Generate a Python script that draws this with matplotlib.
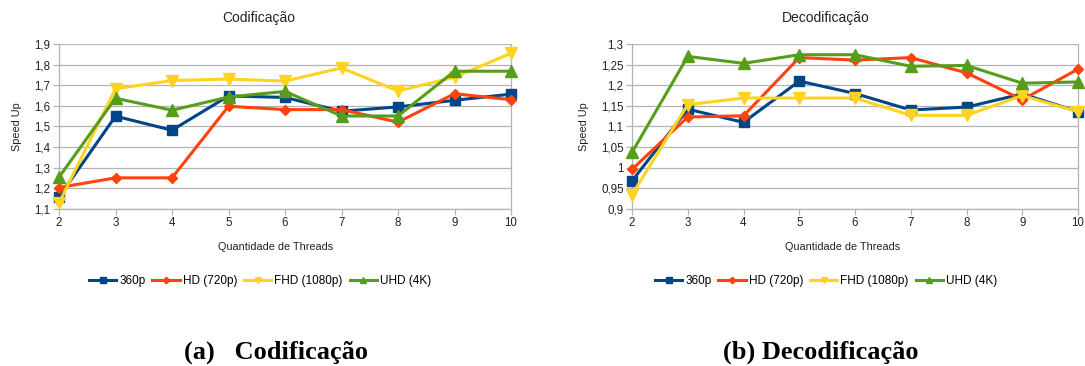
import matplotlib
matplotlib.use("Agg")
import matplotlib.pyplot as plt
from matplotlib.ticker import FuncFormatter

threads = [2, 3, 4, 5, 6, 7, 8, 9, 10]
series_names = ["360p", "HD (720p)", "FHD (1080p)", "UHD (4K)"]

cod_360p = [1.158, 1.550, 1.482, 1.648, 1.641, 1.574, 1.595, 1.627, 1.657]
cod_hd = [1.204, 1.251, 1.251, 1.598, 1.582, 1.582, 1.521, 1.659, 1.630]
cod_fhd = [1.129, 1.683, 1.723, 1.730, 1.720, 1.784, 1.672, 1.739, 1.855]
cod_uhd = [1.254, 1.637, 1.579, 1.643, 1.670, 1.551, 1.551, 1.768, 1.768]

dec_360p = [0.968, 1.142, 1.110, 1.210, 1.180, 1.140, 1.147, 1.179, 1.136]
dec_hd = [0.996, 1.123, 1.126, 1.267, 1.261, 1.267, 1.230, 1.165, 1.239]
dec_fhd = [0.935, 1.153, 1.169, 1.169, 1.169, 1.127, 1.127, 1.175, 1.136]
dec_uhd = [1.037, 1.270, 1.253, 1.274, 1.274, 1.246, 1.248, 1.205, 1.208]

cod_yticks = [1.1, 1.2, 1.3, 1.4, 1.5, 1.6, 1.7, 1.8, 1.9]
dec_yticks = [0.9, 0.95, 1.0, 1.05, 1.1, 1.15, 1.2, 1.25, 1.3]

colors = ["#004586", "#ff420e", "#ffd320", "#579d1c"]
markers = ["s", "D", "v", "^"]
msizes = [7, 5.5, 8, 8]

plt.rcParams['font.family'] = ['Liberation Sans', 'DejaVu Sans']

fig = plt.figure(figsize=(10.85, 3.66), dpi=100)
W, H = 1085, 366
TXT = "#222222"

def make_ax(x0, x1, y0, y1):
    return fig.add_axes([x0 / W, 1 - y1 / H, (x1 - x0) / W, (y1 - y0) / H])

def comma_fmt(v, pos):
    s = ("%.2f" % v).rstrip("0").rstrip(".")
    return s.replace(".", ",")

def draw(ax, data, yticks, title, title_x, xlabel_x, legend_x, ax_x0, ax_w):
    for vals, name, c, m, ms in zip(data, series_names, colors, markers, msizes):
        ax.plot(threads, vals, color=c, marker=m, markersize=ms, linewidth=2.2,
                label=name, clip_on=False, zorder=3)
    ax.set_xlim(threads[0], threads[-1])
    ax.set_ylim(yticks[0], yticks[-1])
    ax.set_xticks(threads)
    ax.set_yticks(yticks)
    ax.yaxis.set_major_formatter(FuncFormatter(comma_fmt))
    ax.grid(axis="y", color="#b3b3b3", linewidth=0.9)
    ax.set_axisbelow(True)
    ax.spines["top"].set_visible(False)
    for side in ["left", "right", "bottom"]:
        ax.spines[side].set_color("#b3b3b3")
        ax.spines[side].set_linewidth(0.9)
    ax.tick_params(axis="both", length=4, width=0.9, color="#b3b3b3",
                   labelsize=8.3, labelcolor=TXT, pad=2)
    ax.set_title(title, fontsize=10, color=TXT, x=(title_x - ax_x0) / ax_w, pad=16)
    ax.set_xlabel("Quantidade de Threads", fontsize=7.8, color=TXT)
    ax.xaxis.set_label_coords((xlabel_x - ax_x0) / ax_w, (209 - 247) / 165)
    ax.xaxis.label.set_va("center")
    ax.set_ylabel("Speed Up", fontsize=7.8, color=TXT, labelpad=9)
    ax.legend(loc="center", bbox_to_anchor=(legend_x / W, 1 - 281 / H),
              bbox_transform=fig.transFigure, ncol=4, frameon=False,
              fontsize=8.5, handlelength=2.3, columnspacing=0.6,
              handletextpad=0.25, markerscale=0.6)

ax1 = make_ax(59, 511, 44, 209)
draw(ax1, [cod_360p, cod_hd, cod_fhd, cod_uhd], cod_yticks, "Codificação",
     259, 276, 260, 59, 452)

ax2 = make_ax(632, 1078, 44, 209)
draw(ax2, [dec_360p, dec_hd, dec_fhd, dec_uhd], dec_yticks, "Decodificação",
     826, 843, 826, 632, 446)

fig.text(276 / W, 1 - 352 / H, "(a)   Codificação", ha="center", va="center",
         fontsize=19, fontweight="bold", family=["Liberation Serif", "DejaVu Serif"])
fig.text(821 / W, 1 - 352 / H, "(b) Decodificação", ha="center", va="center",
         fontsize=19, fontweight="bold", family=["Liberation Serif", "DejaVu Serif"])

fig.savefig("out.png", dpi=100, facecolor="white")
